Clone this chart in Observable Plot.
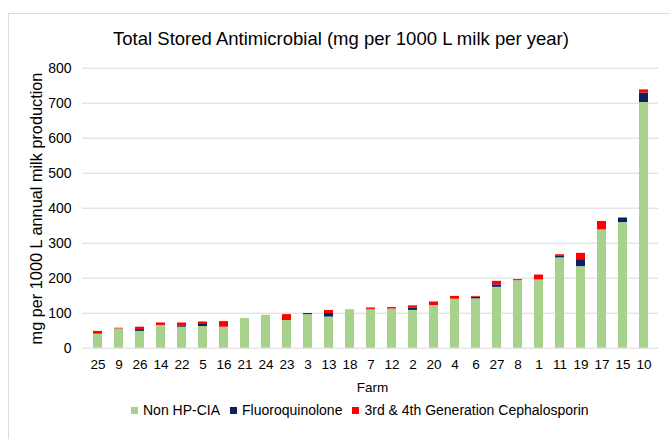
<!DOCTYPE html>
<html><head><meta charset="utf-8">
<script src="https://cdn.jsdelivr.net/npm/d3@7"></script>
<script src="https://cdn.jsdelivr.net/npm/@observablehq/plot@0.6"></script>
<style>
body{margin:0;background:#fff;font-family:"Liberation Sans",Arial,sans-serif;color:#000;}
#wrap{position:relative;width:670px;height:439px;overflow:hidden;background:#fff;}
#frame{position:absolute;left:8px;top:13px;width:720px;height:500px;border-left:1px solid #dcdcdc;border-top:1px solid #dcdcdc;}
#chart{position:absolute;left:0;top:0;}
#overlay{position:absolute;left:0;top:0;}
#legend{position:absolute;left:131px;top:402px;display:flex;align-items:center;font-size:14px;line-height:16px;white-space:nowrap;}
#legend .item{display:flex;align-items:center;margin-right:10px;}
#legend .sw{width:7px;height:7px;margin-right:5px;}
</style></head>
<body><div id="wrap"><div id="frame"></div><div id="chart"></div><svg id="overlay" width="670" height="439"></svg><div id="legend"></div></div>
<script>
const farms = ["25","9","26","14","22","5","16","21","24","23","3","13","18","7","12","2","20","4","6","27","8","1","11","19","17","15","10"];
const nonHPCIA =        [40,55,48,65,60,62,60,85,94,79,96,89,110,110,112,108,122,140,141,174,193,195,258,233,338,359,702];
const fluoroquinolone = [0, 0, 5, 0, 4, 8, 0, 0, 0, 0, 3,10,  0,  1,  0,  6,  0,  0,  5,  7,  0,  0,  6, 20,  0, 13, 27];
const cephalosporin =   [8, 2, 7, 7, 8, 5,16, 0, 0,17, 0, 9,  0,  4,  4,  7, 10,  8,  2, 10,  3, 14,  3, 18, 24,  0,  9];
const seriesNames = ["Non HP-CIA","Fluoroquinolone","3rd & 4th Generation Cephalosporin"];
const seriesColors = ["#a9d18e","#0b2161","#ff0000"];
const yTicks = [0,100,200,300,400,500,600,700,800];
const titleText = "Total Stored Antimicrobial (mg per 1000 L milk per year)";
const xLabelText = "Farm";
const yLabelText = "mg per 1000 L annual milk production";

const seriesValues = [nonHPCIA, fluoroquinolone, cephalosporin];
const rows = [];
farms.forEach((f, i) => {
  seriesValues.forEach((arr, k) => {
    if (arr[i] > 0) rows.push({farm: f, type: seriesNames[k], value: arr[i]});
  });
});

const font = '"Liberation Sans", Arial, sans-serif';
const chart = Plot.plot({
  width: 670, height: 439,
  marginTop: 67.7, marginBottom: 91.3, marginLeft: 82, marginRight: 12,
  style: {fontFamily: font, fontSize: "14px", color: "#000", background: "transparent", overflow: "visible"},
  x: {domain: farms, paddingInner: 0.58, paddingOuter: 0.29, label: null},
  y: {domain: [0, 800], label: null},
  color: {domain: seriesNames, range: seriesColors},
  marks: [
    Plot.gridY(yTicks, {stroke: "#d9d9d9", strokeOpacity: 1, strokeWidth: 1}),
    Plot.barY(rows, {x: "farm", y: "value", fill: "type"}),
    Plot.axisY(yTicks, {tickSize: 0, tickPadding: 11, fontSize: 14, label: null, fill: "#000"}),
    Plot.axisX({tickSize: 0, tickPadding: 11, fontSize: 13.5, label: null, fill: "#000"})
  ]
});
document.getElementById("chart").appendChild(chart);

const ns = "http://www.w3.org/2000/svg";
const ov = document.getElementById("overlay");
function addText(str, attrs) {
  const t = document.createElementNS(ns, "text");
  for (const k in attrs) t.setAttribute(k, attrs[k]);
  t.setAttribute("font-family", font);
  t.setAttribute("fill", "#000");
  t.textContent = str;
  ov.appendChild(t);
}
addText(titleText, {x: 341, y: 45, "text-anchor": "middle", "font-size": 18.5});
addText(xLabelText, {x: 372.5, y: 392, "text-anchor": "middle", "font-size": 13.5});
addText(yLabelText, {transform: "translate(42,208.5) rotate(-90)", "text-anchor": "middle", "font-size": 16.3});

const lg = document.getElementById("legend");
seriesNames.forEach((n, k) => {
  const it = document.createElement("div"); it.className = "item";
  const sw = document.createElement("div"); sw.className = "sw"; sw.style.background = seriesColors[k];
  const lb = document.createElement("span"); lb.textContent = n;
  it.appendChild(sw); it.appendChild(lb); lg.appendChild(it);
});
</script>
</body></html>
